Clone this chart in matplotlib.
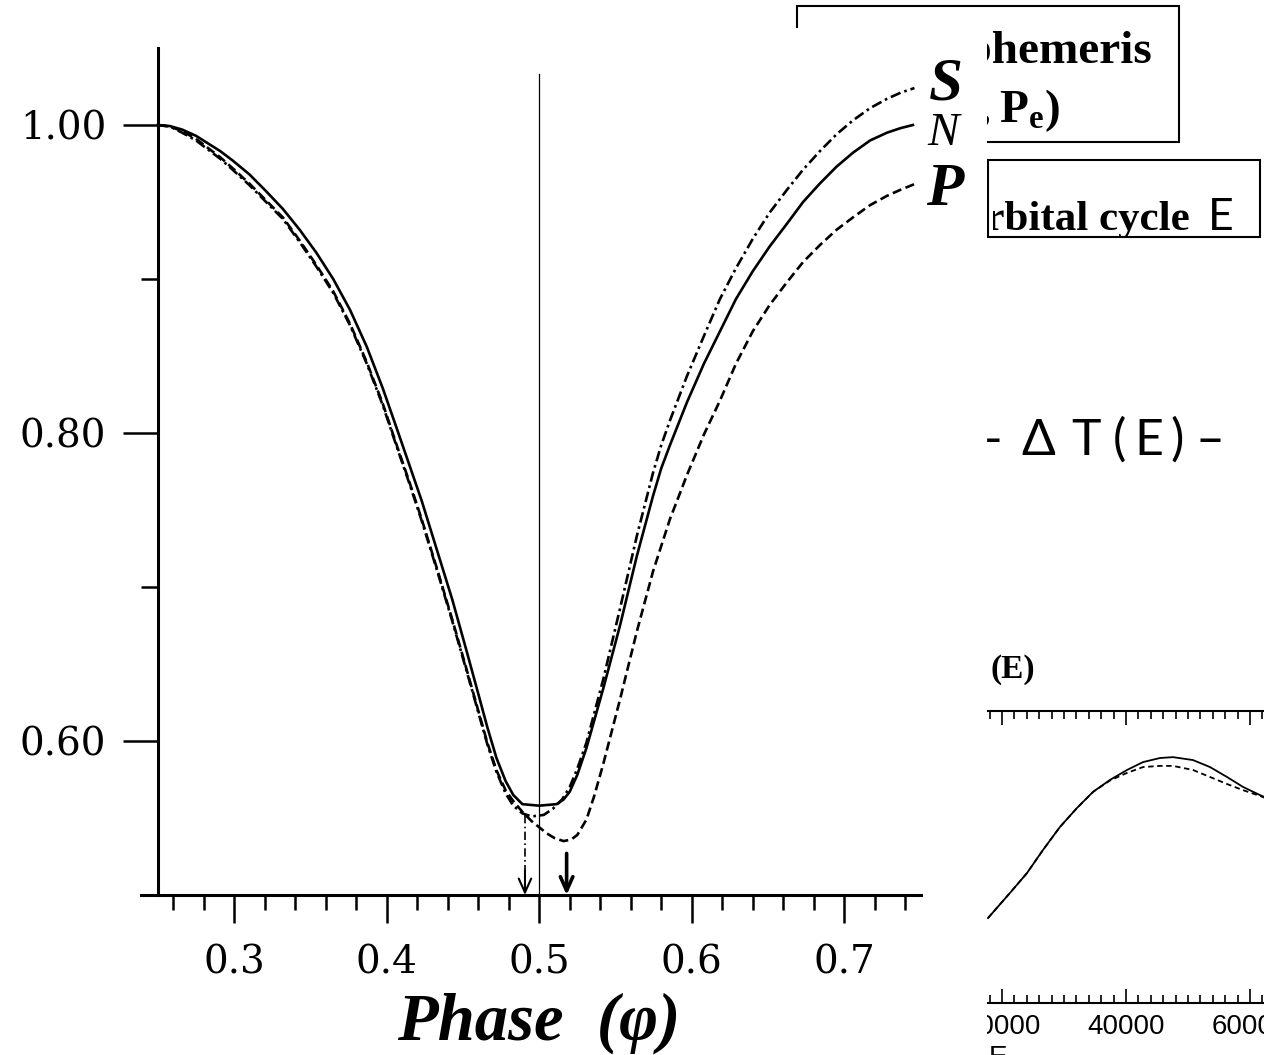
import numpy as np
import matplotlib.pyplot as plt
from matplotlib.patches import Rectangle
from matplotlib.ticker import FixedLocator, FuncFormatter

# Light curves around primary minimum (normalised flux vs phase)
phase_N = [0.250, 0.258, 0.266, 0.275, 0.283, 0.291, 0.299, 0.310, 0.321, 0.332, 0.343, 0.354,
           0.365, 0.376, 0.387, 0.3975, 0.407, 0.415, 0.423, 0.433, 0.443, 0.452, 0.460, 0.466,
           0.472, 0.478, 0.483, 0.489, 0.500, 0.5115, 0.516, 0.520, 0.525, 0.531, 0.542, 0.553,
           0.564, 0.5746, 0.580, 0.5857, 0.5969, 0.608, 0.6185, 0.629, 0.640, 0.651, 0.6625,
           0.673, 0.684, 0.695, 0.7057, 0.717, 0.728, 0.737, 0.745]
flux_N = [1.000, 0.9993, 0.997, 0.993, 0.988, 0.983, 0.977, 0.968, 0.957, 0.9455, 0.932, 0.917,
          0.900, 0.880, 0.856, 0.829, 0.802, 0.779, 0.756, 0.724, 0.692, 0.660, 0.631, 0.609,
          0.589, 0.574, 0.565, 0.559, 0.558, 0.559, 0.562, 0.567, 0.578, 0.5955, 0.634, 0.675,
          0.720, 0.759, 0.777, 0.792, 0.820, 0.845, 0.866, 0.887, 0.905, 0.921, 0.936,
          0.950, 0.962, 0.973, 0.982, 0.990, 0.995, 0.998, 1.000]

phase_S = [0.250, 0.258, 0.266, 0.275, 0.283, 0.291, 0.299, 0.310, 0.321, 0.332, 0.343, 0.354,
           0.365, 0.376, 0.387, 0.3975, 0.407, 0.415, 0.423, 0.433, 0.443, 0.452, 0.460, 0.466,
           0.472, 0.478, 0.483, 0.489, 0.495, 0.503, 0.509, 0.515, 0.520, 0.525, 0.531, 0.542,
           0.553, 0.564, 0.5746, 0.580, 0.5857, 0.5969, 0.608, 0.6185, 0.629, 0.640, 0.651,
           0.6625, 0.673, 0.684, 0.695, 0.7057, 0.717, 0.728, 0.737, 0.746]
flux_S = [1.000, 0.999, 0.995, 0.990, 0.984, 0.978, 0.971, 0.961, 0.950, 0.939, 0.924, 0.908,
          0.891, 0.870, 0.845, 0.818, 0.790, 0.767, 0.743, 0.711, 0.678, 0.647, 0.619, 0.598,
          0.580, 0.566, 0.558, 0.553, 0.551, 0.552, 0.556, 0.562, 0.570, 0.582, 0.599, 0.640,
          0.686, 0.733, 0.774, 0.792, 0.808, 0.837, 0.863, 0.887, 0.907, 0.926, 0.943,
          0.958, 0.971, 0.983, 0.994, 1.003, 1.011, 1.017, 1.021, 1.024]

phase_P = [0.250, 0.258, 0.266, 0.275, 0.283, 0.291, 0.299, 0.310, 0.321, 0.332, 0.343, 0.354,
           0.365, 0.376, 0.387, 0.3975, 0.407, 0.415, 0.423, 0.433, 0.443, 0.452, 0.460, 0.466,
           0.472, 0.478, 0.483, 0.489, 0.495, 0.500, 0.505, 0.510, 0.516, 0.521, 0.525, 0.531,
           0.536, 0.542, 0.553, 0.564, 0.5746, 0.5857, 0.597, 0.608, 0.6185, 0.629, 0.640,
           0.651, 0.6625, 0.673, 0.684, 0.695, 0.7057, 0.717, 0.728, 0.737, 0.747]
flux_P = [1.000, 0.999, 0.996, 0.991, 0.985, 0.979, 0.972, 0.962, 0.951, 0.940, 0.925, 0.909,
          0.892, 0.871, 0.846, 0.819, 0.791, 0.768, 0.744, 0.712, 0.679, 0.648, 0.620, 0.599,
          0.581, 0.568, 0.561, 0.554, 0.548, 0.544, 0.540, 0.537, 0.535, 0.536, 0.539, 0.549,
          0.564, 0.585, 0.627, 0.671, 0.710, 0.744, 0.773, 0.799, 0.821, 0.845, 0.866,
          0.883, 0.898, 0.911, 0.922, 0.932, 0.940, 0.948, 0.954, 0.958, 0.962]

curve_labels = ['S', 'N', 'P']
label_pos = [(0.7665, 1.0266), (0.765, 0.994), (0.766, 0.958)]

min_phase_S = 0.4907
min_phase_P = 0.518
mid_phase = 0.5

x_major = [0.3, 0.4, 0.5, 0.6, 0.7]
x_minor = [0.26, 0.28, 0.32, 0.34, 0.36, 0.38, 0.42, 0.44, 0.46, 0.48,
           0.52, 0.54, 0.56, 0.58, 0.62, 0.64, 0.66, 0.68, 0.72, 0.74]
y_major = [0.60, 0.80, 1.00]
y_minor = [0.70, 0.90]

# O-C style curves in the small panel (cycle number E)
cycle_E = [17742, 21290, 24030, 26610, 29350, 32100, 34680, 37420, 40160, 42740, 45480,
           47580, 50800, 53550, 56290, 58870, 61610, 64000]
dT_solid = [0.291, 0.377, 0.445, 0.524, 0.603, 0.668, 0.723, 0.764, 0.798, 0.825, 0.839,
            0.842, 0.832, 0.808, 0.774, 0.740, 0.712, 0.690]
dT_dashed = [0.291, 0.377, 0.445, 0.524, 0.603, 0.668, 0.723, 0.762, 0.788, 0.808, 0.812,
             0.812, 0.798, 0.774, 0.750, 0.729, 0.709, 0.690]

W, H = 1264, 1055


def fx(px):
    return px / W


def fy(py):
    return 1 - py / H


plt.rcParams['mathtext.fontset'] = 'custom'
plt.rcParams['mathtext.rm'] = 'Liberation Serif:bold'

fig = plt.figure(figsize=(W / 100, H / 100), dpi=100)

# boxes and captions behind the plot
for x0, y0, x1, y1 in [(797, 6, 1179, 142), (988, 160, 1260, 237)]:
    fig.patches.append(Rectangle((fx(x0), fy(y1)), fx(x1) - fx(x0), fy(y0) - fy(y1),
                                 transform=fig.transFigure, fill=False, lw=1.5,
                                 ec='black', zorder=1))

serif_bold = dict(family='Liberation Serif', weight='bold', color='black', zorder=1)
fig.text(fx(1152), fy(63), 'Ephemeris', ha='right', va='baseline', fontsize=34, **serif_bold)
fig.text(fx(1060), fy(122), r'$\mathrm{(T_0,P_e)}$', ha='right', va='baseline', fontsize=34,
         color='black', zorder=1)
orbit_txt = fig.text(fx(1190), fy(230), 'Orbital cycle', ha='right', va='baseline', fontsize=31,
                     **serif_bold)
orbit_txt.set_clip_path(Rectangle((fx(993), fy(237)), fx(1260) - fx(993), fy(160) - fy(237),
                                  transform=fig.transFigure))
fig.text(fx(1208), fy(230), 'E', ha='left', va='baseline', fontsize=32, family='Lato', zorder=1)
fig.text(fx(990), fy(678), '(E)', ha='left', va='baseline', fontsize=24, **serif_bold)

for ch, px in [('-', 993), ('Δ', 1038), ('T', 1086), ('(', 1119), ('E', 1149), (')', 1177), ('–', 1210)]:
    fig.text(fx(px), fy(455), ch, ha='center', va='baseline', fontsize=36, family='Lato',
             zorder=1)

# small panel
ax2 = fig.add_axes([fx(878), fy(1003), 496 / W, (1003 - 711) / H], zorder=0)
ax2.plot(cycle_E, dT_solid, color='black', lw=1.3)
ax2.plot(cycle_E, dT_dashed, color='black', lw=1.3, dashes=(3, 2))
ax2.set_xlim(0, 80000)
ax2.set_ylim(0, 1)
ax2.xaxis.set_major_locator(FixedLocator(np.arange(0, 80001, 20000)))
ax2.xaxis.set_minor_locator(FixedLocator(np.arange(0, 80001, 2000)))
ax2.xaxis.set_major_formatter(FuncFormatter(lambda v, p: '%d' % v))
ax2.tick_params(axis='x', which='both', direction='in', top=True, bottom=True, width=1.2,
                labelsize=20, pad=8)
ax2.tick_params(axis='x', which='major', length=10)
ax2.tick_params(axis='x', which='minor', length=5.5)
ax2.tick_params(axis='y', left=False, labelleft=False)
for lab in ax2.get_xticklabels():
    lab.set_family('Liberation Sans')
for sp in ax2.spines.values():
    sp.set_linewidth(1.5)
fig.text(fx(998), fy(1045), 'E', ha='center', va='top', fontsize=20, family='Liberation Sans',
         zorder=0.5)

# white area of the light-curve figure
fig.patches.append(Rectangle((0, 0), fx(987), fy(28), transform=fig.transFigure,
                             facecolor='white', ec='none', zorder=5))

# main light-curve plot
ax = fig.add_axes([fx(141), fy(895), fx(921) - fx(141), fy(48) - fy(895)], zorder=6)
ax.set_facecolor('none')
ax.plot(phase_N, flux_N, color='black', lw=1.9)
ax.plot(phase_S, flux_S, color='black', lw=1.9, dashes=(4, 1.5, 1, 1.5))
ax.plot(phase_P, flux_P, color='black', lw=1.9, dashes=(3.5, 1.7))
ax.plot([mid_phase, mid_phase], [0.5, 1.033], color='black', lw=0.9)

# arrows marking the minima
ax.plot([min_phase_S, min_phase_S], [0.552, 0.514], color='black', lw=1.2, dashes=(5, 2, 1, 2))
ax.annotate('', xy=(min_phase_S, 0.5), xytext=(min_phase_S, 0.516),
            arrowprops=dict(arrowstyle='->,head_length=1.0,head_width=0.45', lw=1.5,
                            color='black', shrinkA=0, shrinkB=0))
ax.annotate('', xy=(min_phase_P, 0.5), xytext=(min_phase_P, 0.527),
            arrowprops=dict(arrowstyle='->,head_length=1.0,head_width=0.45', lw=2.6,
                            color='black', shrinkA=0, shrinkB=0))

for lab, (lx, ly) in zip(curve_labels, label_pos):
    bold = 'normal' if lab == 'N' else 'bold'
    size = 34 if lab == 'N' else 44
    ax.text(lx, ly, lab, ha='center', va='center', fontsize=size, fontstyle='italic',
            weight=bold, family='Liberation Serif', clip_on=False)

ax.set_xlim(0.239, 0.7503)
ax.set_ylim(0.5, 1.05)
ax.spines['top'].set_visible(False)
ax.spines['right'].set_visible(False)
ax.spines['left'].set_position(('data', 0.25))
for sp in ['left', 'bottom']:
    ax.spines[sp].set_linewidth(2.2)

ax.xaxis.set_major_locator(FixedLocator(x_major))
ax.xaxis.set_minor_locator(FixedLocator(x_minor))
ax.yaxis.set_major_locator(FixedLocator(y_major))
ax.yaxis.set_minor_locator(FixedLocator(y_minor))
ax.xaxis.set_major_formatter(FuncFormatter(lambda v, p: '%.1f' % v))
ax.yaxis.set_major_formatter(FuncFormatter(lambda v, p: '%.2f' % v))
ax.tick_params(axis='both', which='both', direction='out', width=1.8, labelsize=28)
ax.tick_params(axis='x', which='major', length=20, pad=16)
ax.tick_params(axis='x', which='minor', length=11)
ax.tick_params(axis='y', which='major', length=25, pad=12)
ax.tick_params(axis='y', which='minor', length=12)
for lab in ax.get_xticklabels() + ax.get_yticklabels():
    lab.set_family('DejaVu Serif')

ax.text(mid_phase, (895 - 1040) / 847, 'Phase  (φ)', transform=ax.get_xaxis_transform(),
        ha='center', va='baseline', fontsize=48, fontstyle='italic', weight='bold',
        family='Liberation Serif')

fig.savefig('out.png', dpi=100)
